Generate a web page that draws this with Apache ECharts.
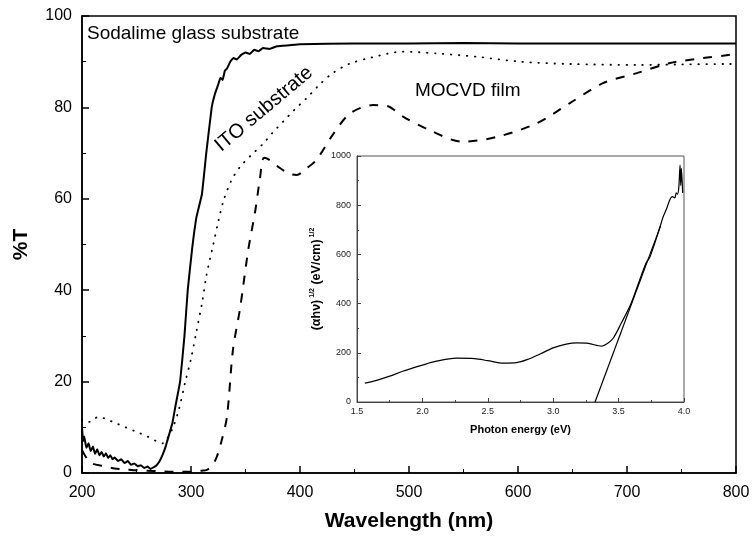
<!DOCTYPE html>
<html><head><meta charset="utf-8">
<script src="https://cdn.jsdelivr.net/npm/echarts@6/dist/echarts.min.js"></script>
<style>html,body{margin:0;padding:0;background:#fff}#c{width:753px;height:540px}</style>
</head><body><div id="c"></div>
<script>
// Main chart: Transmittance (%T) vs wavelength (nm)
const sodaX = [200,201,202,204,206,208,210,212,214,216,218,220,222,224,226,228,230,233,236,239,242,245,248,251,254,257,260,263,266,268,271,274,277,280,283,286,290,294,297,301,305,310,314,319,322,325,327,329,331,333,336,339,342,346,350,354,358,362,366,372,379,390,400,450,500,550,600,650,700,750,800];
const sodaY = [10,7,8,5.5,6.5,4.8,5.8,4.2,5.2,3.9,4.6,3.6,4.3,3.3,3.9,3,3.4,2.6,3,2.2,2.6,1.8,2.1,1.5,1.7,1.1,1.4,0.9,1.3,1.6,2.5,4,6,8.5,11,15,20,30,40,49,56,61,70,80,83,85,86.5,86,88,88.5,90,90.8,90.5,91.5,92,91.7,92.6,92.3,93,92.8,93.4,93.6,93.8,94,94,94.1,94,94,94,94,94];
const itoX = [200,203,208,212,216,220,225,230,240,250,260,268,274,278,283.5,289,294.5,300,305,310,314,317.6,320,325,330,337,345,355,366,375,385,395,406,418,430,445,467,494,526,565,602,648,709,750,794,800];
const itoY = [11.5,11,11.3,12,12.3,12,11.5,11,10,9,8,7,6.5,7.5,10,14,19.7,25,31,37,43,47,49.5,55,59.7,64,67,69.5,72,74.5,77,79.5,82,85,87.5,89.5,91,92.2,91.8,91,90,89.5,89.3,89.4,89.5,89.5];
const filmX = [200,205,210,220,230,240,250,260,270,280,290,300,305,310,314.6,319,323.6,328,333,338.5,345,352.5,358.7,363,367,372,380,390,397,405,415,430,446,467,480,494.5,519,549,580,617,648,678,709,739.5,770,794.5,800];
const filmY = [5,3,2,1.5,1,0.8,0.6,0.5,0.4,0.3,0.3,0.3,0.4,0.5,0.7,1.5,3.5,7,12.3,27,36,48.8,57,64,69,68.5,67,65.5,65.2,66.5,68.5,74,78.7,80.5,80.3,78,75,72.5,73.5,76.5,81,85.3,87.5,89.7,90.8,91.5,91.7];
// Inset: (alpha h nu)^1/2 vs photon energy
const insetX = [1.56,1.65,1.75,1.85,2.0,2.1,2.26,2.4,2.5,2.62,2.72,2.8,2.9,3.0,3.1,3.18,3.27,3.37,3.42,3.46,3.52,3.59,3.65,3.71,3.74,3.81,3.84,3.87,3.89,3.91,3.93,3.94,3.95,3.96,3.97,3.975,3.98,3.99];
const insetY = [77,88,105,125,150,165,178,176,168,158,160,172,195,220,235,240,238,227,240,260,320,394,480,565,590,700,752,790,820,835,830,850,845,870,963,880,950,850];
const fitX = [3.32,3.82];
const fitY = [0,715];
// Labels
const mainXTicks = [200,300,400,500,600,700,800];
const mainYTicks = [0,20,40,60,80,100];
const labels = {soda:'Sodalime glass substrate', ito:'ITO substrate', film:'MOCVD film'};

const zip = (a,b)=>a.map((v,i)=>[v,b[i]]);
const FONT = '"Liberation Sans", Arial, sans-serif';
const chart = echarts.init(document.getElementById('c'), null, {renderer:'canvas'});
const axisCommon = {
  axisLine:{show:true,lineStyle:{color:'#000',width:1.5}},
  axisTick:{show:true,inside:true,length:7,lineStyle:{color:'#000',width:1.5}},
  minorTick:{show:true,splitNumber:2,length:4,lineStyle:{color:'#000',width:1}},
  splitLine:{show:false}
};
chart.setOption({
  animation:false,
  backgroundColor:'#fff',
  grid:[
    {left:82,top:16,right:17,bottom:67,show:true,borderColor:'#000',borderWidth:1.5},
    {left:357,top:156,right:69,bottom:138,show:true,borderColor:'#555',borderWidth:1,backgroundColor:'#fff',z:5}
  ],
  xAxis:[
    Object.assign({},axisCommon,{gridIndex:0,type:'value',min:200,max:800,interval:100,
      name:'Wavelength (nm)',nameLocation:'middle',nameGap:38,
      nameTextStyle:{fontFamily:FONT,fontWeight:'bold',fontSize:21,color:'#000'},
      axisLabel:{fontFamily:FONT,fontSize:16,color:'#000',margin:12,
        formatter:v=>mainXTicks.includes(v)?String(v):''}}),
    {gridIndex:1,type:'value',min:1.5,max:4.0,interval:0.5,z:6,
      axisLine:{show:true,lineStyle:{color:'#444',width:1}},
      axisTick:{show:true,inside:true,length:4,lineStyle:{color:'#444'}},
      minorTick:{show:true,splitNumber:2,length:2,lineStyle:{color:'#444'}},
      splitLine:{show:false},
      name:'Photon energy (eV)',nameLocation:'middle',nameGap:22,
      nameTextStyle:{fontFamily:FONT,fontWeight:'bold',fontSize:11,color:'#000'},
      axisLabel:{fontFamily:FONT,fontSize:9,color:'#222',margin:5,formatter:v=>v.toFixed(1)}}
  ],
  yAxis:[
    Object.assign({},axisCommon,{gridIndex:0,type:'value',min:0,max:100,interval:20,
      name:'%T',nameLocation:'middle',nameGap:50,
      nameTextStyle:{fontFamily:FONT,fontWeight:'bold',fontSize:21,color:'#000'},
      axisLabel:{fontFamily:FONT,fontSize:16,color:'#000',margin:10,
        formatter:v=>mainYTicks.includes(v)?String(v):''}}),
    {gridIndex:1,type:'value',min:0,max:1000,interval:200,z:6,
      axisLine:{show:true,lineStyle:{color:'#444',width:1}},
      axisTick:{show:true,inside:true,length:4,lineStyle:{color:'#444'}},
      minorTick:{show:true,splitNumber:2,length:2,lineStyle:{color:'#444'}},
      splitLine:{show:false},
      name:'{n|(αhν)}{s|1/2}{n| (eV/cm)}{s|1/2}',nameLocation:'middle',nameGap:32,
      nameTextStyle:{rich:{
        n:{fontFamily:FONT,fontWeight:'bold',fontSize:12.5,color:'#000'},
        s:{fontFamily:FONT,fontWeight:'bold',fontSize:7,color:'#000',padding:[0,0,9,2]}}},
      axisLabel:{fontFamily:FONT,fontSize:9,color:'#222',margin:6,formatter:v=>String(v)}}
  ],
  series:[
    {type:'line',xAxisIndex:0,yAxisIndex:0,data:zip(sodaX,sodaY),showSymbol:false,smooth:0.1,
      lineStyle:{color:'#000',width:2}},
    {type:'line',xAxisIndex:0,yAxisIndex:0,data:zip(itoX,itoY),showSymbol:false,smooth:0.3,
      lineStyle:{color:'#000',width:1.8,type:[0.5,7.5],cap:'round'}},
    {type:'line',xAxisIndex:0,yAxisIndex:0,data:zip(filmX,filmY),showSymbol:false,smooth:0.3,
      lineStyle:{color:'#000',width:2,type:[9,9]}},
    {type:'line',xAxisIndex:1,yAxisIndex:1,data:zip(insetX,insetY),showSymbol:false,smooth:0.3,z:7,
      lineStyle:{color:'#000',width:1.2}},
    {type:'line',xAxisIndex:1,yAxisIndex:1,data:zip(fitX,fitY),showSymbol:false,z:7,
      lineStyle:{color:'#000',width:1.2}}
  ],
  graphic:[
    {type:'text',left:87,top:24,style:{text:labels.soda,font:'19px '+FONT,fill:'#000'}},
    {type:'text',x:264,y:109,rotation:0.70,style:{text:labels.ito,font:'20px '+FONT,fill:'#000',textAlign:'center',textVerticalAlign:'middle'}},
    {type:'text',left:415,top:81,style:{text:labels.film,font:'19px '+FONT,fill:'#000'}}
  ]
});
</script></body></html>
